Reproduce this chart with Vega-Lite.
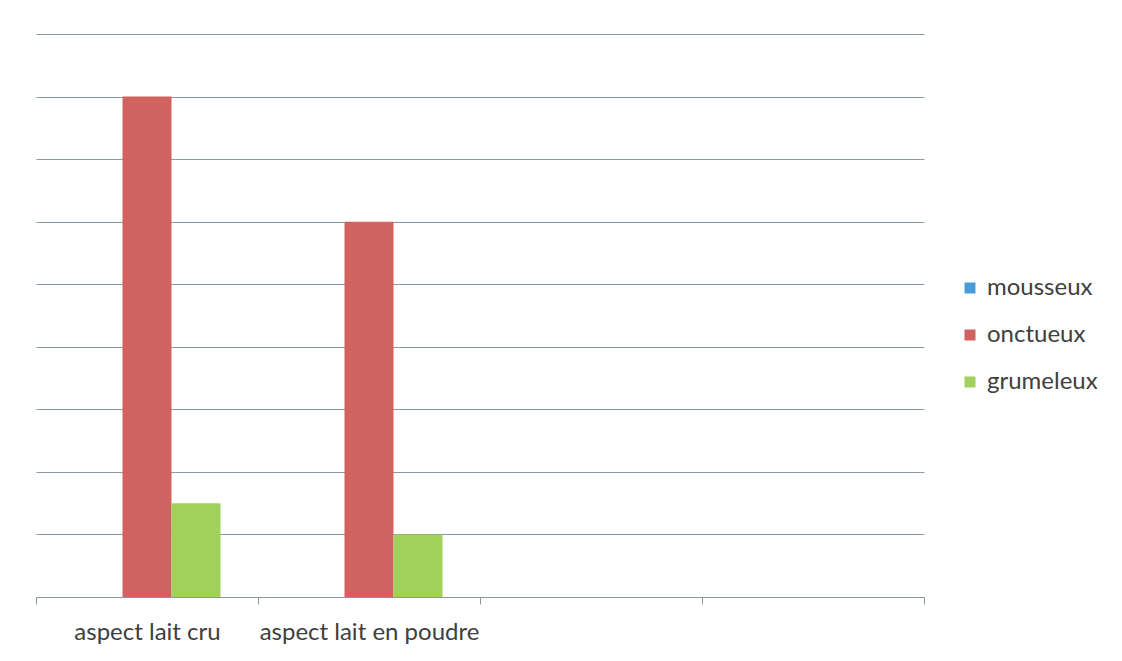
{
  "$schema": "https://vega.github.io/schema/vega-lite/v6.json",
  "width": 888,
  "height": 563,
  "autosize": {"type": "none"},
  "padding": {"left": 36, "top": 34, "right": 198, "bottom": 64},
  "background": "white",
  "config": {"view": {"stroke": null}, "font": "Lato"},
  "data": {
    "values": [
      {"categorie": "aspect lait cru", "serie": "mousseux", "valeur": 0},
      {"categorie": "aspect lait cru", "serie": "onctueux", "valeur": 8},
      {"categorie": "aspect lait cru", "serie": "grumeleux", "valeur": 1.5},
      {"categorie": "aspect lait en poudre", "serie": "mousseux", "valeur": 0},
      {"categorie": "aspect lait en poudre", "serie": "onctueux", "valeur": 6},
      {"categorie": "aspect lait en poudre", "serie": "grumeleux", "valeur": 1}
    ]
  },
  "mark": {"type": "bar"},
  "encoding": {
    "x": {
      "field": "categorie",
      "type": "nominal",
      "scale": {
        "domain": ["aspect lait cru", "aspect lait en poudre", "c3", "c4"],
        "paddingInner": 0,
        "paddingOuter": 0
      },
      "axis": {
        "title": null,
        "labelAngle": 0,
        "labelExpr": "datum.value == 'c3' || datum.value == 'c4' ? '' : datum.value",
        "labelFontSize": 24,
        "labelColor": "#404040",
        "labelPadding": 16,
        "labelLimit": 0,
        "labelOverlap": false,
        "tickBand": "extent",
        "tickSize": 7,
        "tickColor": "#8a96a3",
        "domainColor": "#8a96a3",
        "grid": false
      }
    },
    "xOffset": {
      "field": "serie",
      "type": "nominal",
      "scale": {"domain": ["mousseux", "onctueux", "grumeleux"], "paddingInner": 0, "paddingOuter": 0.765}
    },
    "y": {
      "field": "valeur",
      "type": "quantitative",
      "scale": {"domain": [0, 9], "nice": false},
      "axis": {
        "title": null,
        "labels": false,
        "ticks": false,
        "domain": false,
        "values": [0, 1, 2, 3, 4, 5, 6, 7, 8, 9],
        "gridColor": "#8a96a3",
        "gridWidth": 1
      }
    },
    "color": {
      "field": "serie",
      "type": "nominal",
      "scale": {
        "domain": ["mousseux", "onctueux", "grumeleux"],
        "range": ["#4a9cd6", "#d0635f", "#a2d05c"]
      },
      "legend": {
        "title": null,
        "orient": "none",
        "legendX": 922,
        "legendY": 242,
        "symbolType": "square",
        "symbolSize": 121,
        "symbolStrokeWidth": 0,
        "labelFontSize": 24,
        "labelColor": "#404040",
        "rowPadding": 23,
        "labelOffset": 5
      }
    }
  }
}
